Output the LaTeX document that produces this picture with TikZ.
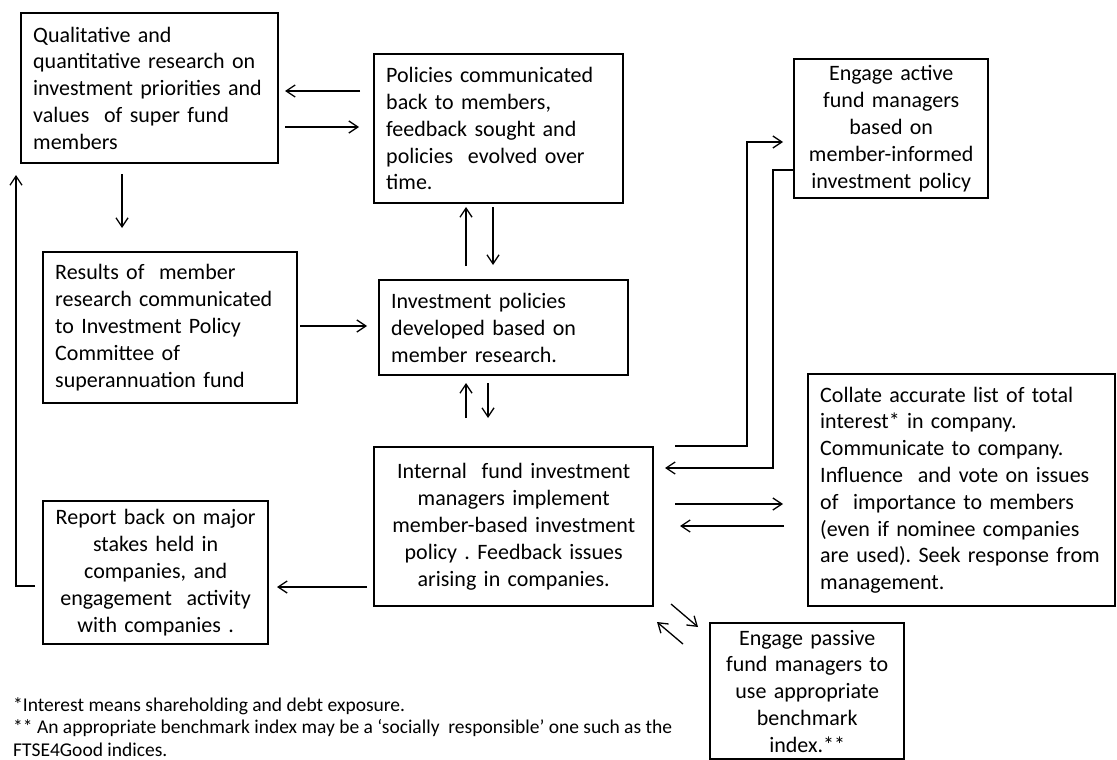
\documentclass[tikz,border=0pt]{standalone}
\usepackage{fontspec}
\setmainfont{Carlito}
\usetikzlibrary{arrows.meta}
\frenchspacing
\begin{document}
\begin{tikzpicture}[x=1pt,y=-1pt,
  box/.style={draw, line width=2.4pt, anchor=north west, inner xsep=12pt, inner ysep=0pt,
    font=\fontsize{22}{26.8}\selectfont},
  arr/.style={line width=1.3pt, -{Straight Barb[length=9pt,width=12pt,line width=1.3pt]}},
  note/.style={anchor=base west, inner sep=0pt, align=left, font=\fontsize{19.5}{22.5}\selectfont}]
\useasboundingbox (0,0) rectangle (1117,760);

% boxes
\node[box, minimum width=257pt, minimum height=150pt, text width=233pt, align=left] (qual) at (20,12)
  {Qualitative and\\quantitative research on\\investment priorities and\\values\ \ of super fund\\members};
\node[box, minimum width=249pt, minimum height=149pt, text width=225pt, align=left] (pol) at (373,53)
  {Policies communicated\\back to members,\\feedback sought and\\policies\ \ evolved over\\time.};
\node[box, minimum width=194pt, minimum height=139pt, text width=170pt, align=center] (engA) at (793,58)
  {Engage active\\fund managers\\based on\\member-informed\\investment policy};
\node[box, minimum width=254pt, minimum height=151pt, text width=230pt, align=left] (res) at (42,251)
  {Results of\ \ member\\research communicated\\to Investment Policy\\Committee of\\superannuation fund};
\node[box, minimum width=249pt, minimum height=95pt, text width=225pt, align=left] (inv) at (378,279)
  {Investment policies\\developed based on\\member research.};
\node[box, minimum width=279pt, minimum height=159pt, text width=255pt, align=center] (int) at (373,446)
  {Internal\ \ fund investment\\managers implement\\member-based investment\\policy . Feedback issues\\arising in companies.};
\node[box, minimum width=225pt, minimum height=143pt, text width=201pt, align=center] (rep) at (42,500)
  {Report back on major\\stakes held in\\companies, and\\engagement\ \ activity\\with companies .};
\node[box, minimum width=307pt, minimum height=232pt, text width=283pt, align=left] (col) at (807,373)
  {Collate accurate list of total\\interest* in company.\\Communicate to company.\\Influence\ \ and vote on issues\\of\ \ importance to members\\(even if nominee companies\\are used). Seek response from\\management.};
\node[box, minimum width=194pt, minimum height=136pt, text width=170pt, align=center] (pas) at (709,622)
  {Engage passive\\fund managers to\\use appropriate\\benchmark\\index.**};

\node[note] (fn) at (13,756)
  {*Interest means shareholding and debt exposure.\\** An appropriate benchmark index may be a ‘socially\ \ responsible’ one such as the\\FTSE4Good indices.};

% connector end points
\coordinate (pq1) at (360,91);  \coordinate (pq2) at (285,91);
\coordinate (qp1) at (285,127); \coordinate (qp2) at (359,127);
\coordinate (qr1) at (122,174); \coordinate (qr2) at (122,228);
\coordinate (lp1) at (35,586);  \coordinate (lp2) at (16,586); \coordinate (lp3) at (16,175);
\coordinate (ri1) at (300,326); \coordinate (ri2) at (367,326);
\coordinate (ip1) at (466,266); \coordinate (ip2) at (466,207);
\coordinate (pi1) at (493,207); \coordinate (pi2) at (493,265);
\coordinate (ii1) at (466,418); \coordinate (ii2) at (466,383);
\coordinate (ii3) at (488,383); \coordinate (ii4) at (488,418);
\coordinate (ir1) at (367,587); \coordinate (ir2) at (277,587);
\coordinate (ia1) at (675,446); \coordinate (ia2) at (747,446); \coordinate (ia3) at (747,142); \coordinate (ia4) at (783,142);
\coordinate (ai1) at (792,170); \coordinate (ai2) at (773,170); \coordinate (ai3) at (773,468); \coordinate (ai4) at (665,468);
\coordinate (ic1) at (675,504); \coordinate (ic2) at (783,504);
\coordinate (ci1) at (784,526); \coordinate (ci2) at (680,526);
\coordinate (ip3) at (671,604); \coordinate (ip4) at (698,627);
\coordinate (pi3) at (683,644); \coordinate (pi4) at (657,622);

% connectors
\draw[arr] (pq1) -- (pq2);
\draw[arr] (qp1) -- (qp2);
\draw[arr] (qr1) -- (qr2);
\draw[arr] (lp1) -- (lp2) -- (lp3);
\draw[arr] (ri1) -- (ri2);
\draw[arr] (ip1) -- (ip2);
\draw[arr] (pi1) -- (pi2);
\draw[arr] (ii1) -- (ii2);
\draw[arr] (ii3) -- (ii4);
\draw[arr] (ir1) -- (ir2);
\draw[arr] (ia1) -- (ia2) -- (ia3) -- (ia4);
\draw[arr] (engA.west |- ai1) -- (ai2) -- (ai3) -- (ai4);
\draw[arr] (ic1) -- (ic2);
\draw[arr] (ci1) -- (ci2);
\draw[arr] (ip3) -- (ip4);
\draw[arr] (pi3) -- (pi4);
\end{tikzpicture}
\end{document}
